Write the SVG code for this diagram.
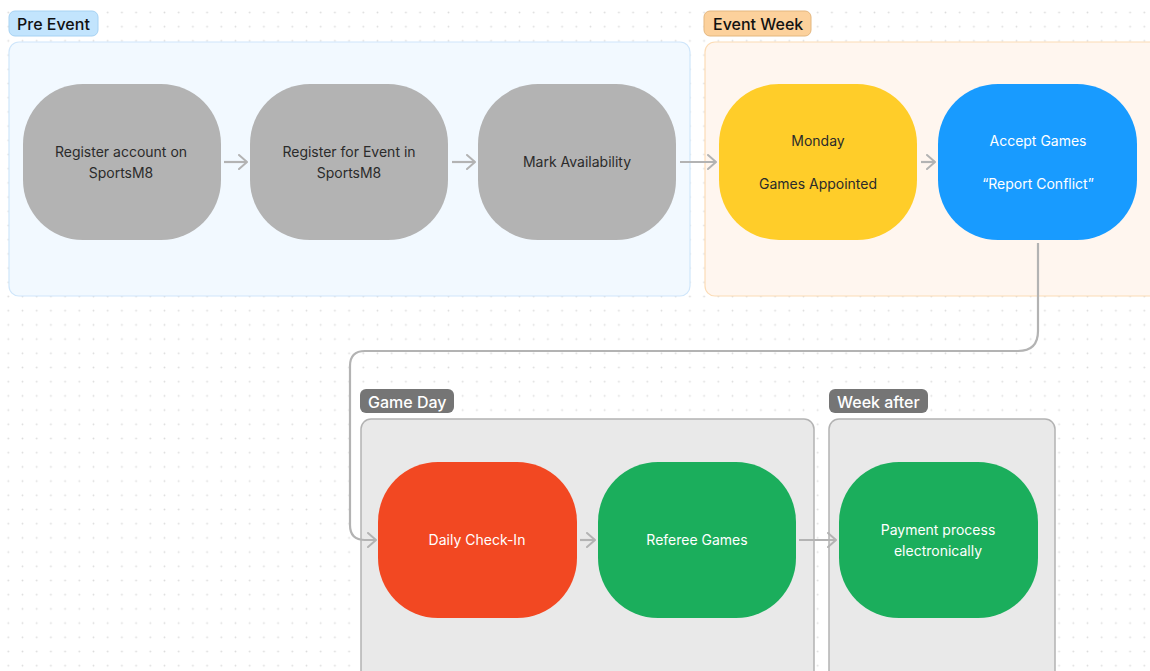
<svg xmlns="http://www.w3.org/2000/svg" width="1150" height="671" viewBox="0 0 1150 671">
<defs>
<pattern id="dots" x="1.2" y="5.4" width="14.2" height="14.2" patternUnits="userSpaceOnUse">
<circle cx="7.1" cy="7.1" r="0.9" fill="#dcdcdc"/>
</pattern>
<marker id="arr" viewBox="0 0 10 16" refX="9" refY="8" markerWidth="10" markerHeight="16" markerUnits="userSpaceOnUse" orient="auto">
<path d="M1 1 L9 8 L1 15" fill="none" stroke="#b3b3b3" stroke-width="2" stroke-linecap="round" stroke-linejoin="round"/>
</marker>
<style>
.t{font-family:Inter,"Liberation Sans",sans-serif;font-size:14px;text-anchor:middle}
.dk{fill:#2b2b2b}
.wh{fill:#ffffff}
.lbl{font-family:Inter,"Liberation Sans",sans-serif;font-size:16px;font-weight:500}
.conn{fill:none;stroke:#b3b3b3;stroke-width:2.2;marker-end:url(#arr)}
.gray{fill:#b3b3b3}
</style>
</defs>
<rect width="1150" height="671" fill="#ffffff"/>
<rect width="1150" height="671" fill="url(#dots)"/>

<g id="section-pre-event">
<rect x="9" y="42" width="681" height="254" rx="10" fill="#f2f9ff" stroke="#cfe6fb" stroke-width="1.2"/>
<rect x="9" y="11" width="89" height="25" rx="6" fill="#c2e4fd" stroke="#a6d2f3" stroke-width="1"/>
<text x="17" y="29.5" class="lbl" fill="#111">Pre Event</text>
</g>
<g id="section-event-week">
<rect x="705" y="42" width="460" height="254" rx="10" fill="#fff6ef" stroke="#fcdcb6" stroke-width="1.2"/>
<rect x="704" y="11" width="107" height="25" rx="6" fill="#fcd19c" stroke="#e4b77f" stroke-width="1"/>
<text x="713" y="29.5" class="lbl" fill="#111">Event Week</text>
</g>
<g id="section-game-day">
<rect x="361" y="419" width="453" height="270" rx="10" fill="#e9e9e9" stroke="#b3b3b3" stroke-width="1.5"/>
<rect x="360" y="389" width="94" height="24" rx="6" fill="#757575"/>
<text x="368" y="407.5" class="lbl" fill="#ffffff">Game Day</text>
</g>
<g id="section-week-after">
<rect x="829" y="419" width="226" height="270" rx="10" fill="#e9e9e9" stroke="#b3b3b3" stroke-width="1.5"/>
<rect x="829" y="389" width="99" height="24" rx="6" fill="#757575"/>
<text x="837" y="407.5" class="lbl" fill="#ffffff">Week after</text>
</g>

<g id="connectors">
<line x1="224" y1="162" x2="247" y2="162" class="conn"/>
<line x1="452" y1="162" x2="475" y2="162" class="conn"/>
<line x1="680" y1="162" x2="716" y2="162" class="conn"/>
<line x1="921" y1="162" x2="935" y2="162" class="conn"/>
<path d="M1038 243 V331 Q1038 351 1018 351 H365 Q350 351 350 366 V525 Q350 540 365 540 H376" class="conn"/>
<line x1="580" y1="540" x2="595" y2="540" class="conn"/>
<line x1="799" y1="540" x2="836" y2="540" class="conn"/>
</g>

<g id="node-register-account">
<rect x="23" y="84" width="198" height="156" rx="60" ry="60" class="gray"/>
<text x="121" y="157" class="t dk">Register account on</text>
<text x="121" y="178" class="t dk">SportsM8</text>
</g>
<g id="node-register-event">
<rect x="250" y="84" width="198" height="156" rx="60" ry="60" class="gray"/>
<text x="349" y="157" class="t dk">Register for Event in</text>
<text x="349" y="178" class="t dk">SportsM8</text>
</g>
<g id="node-mark-availability">
<rect x="478" y="84" width="198" height="156" rx="60" ry="60" class="gray"/>
<text x="577" y="167" class="t dk">Mark Availability</text>
</g>
<g id="node-monday">
<rect x="719" y="84" width="198" height="156" rx="60" ry="60" fill="#ffcd29"/>
<text x="818" y="146" class="t dk">Monday</text>
<text x="818" y="189" class="t dk">Games Appointed</text>
</g>
<g id="node-accept-games">
<rect x="938" y="84" width="199" height="156" rx="60" ry="60" fill="#189bff"/>
<text x="1038" y="146" class="t wh">Accept Games</text>
<text x="1038" y="189" class="t wh">“Report Conflict”</text>
</g>
<g id="node-daily-checkin">
<rect x="378" y="462" width="199" height="156" rx="60" ry="60" fill="#f24822"/>
<text x="477" y="545" class="t wh">Daily Check-In</text>
</g>
<g id="node-referee-games">
<rect x="598" y="462" width="198" height="156" rx="60" ry="60" fill="#1bae5c"/>
<text x="697" y="545" class="t wh">Referee Games</text>
</g>
<g id="node-payment">
<rect x="839" y="462" width="199" height="156" rx="60" ry="60" fill="#1bae5c"/>
<text x="938" y="535" class="t wh">Payment process</text>
<text x="938" y="556" class="t wh">electronically</text>
</g>
</svg>
